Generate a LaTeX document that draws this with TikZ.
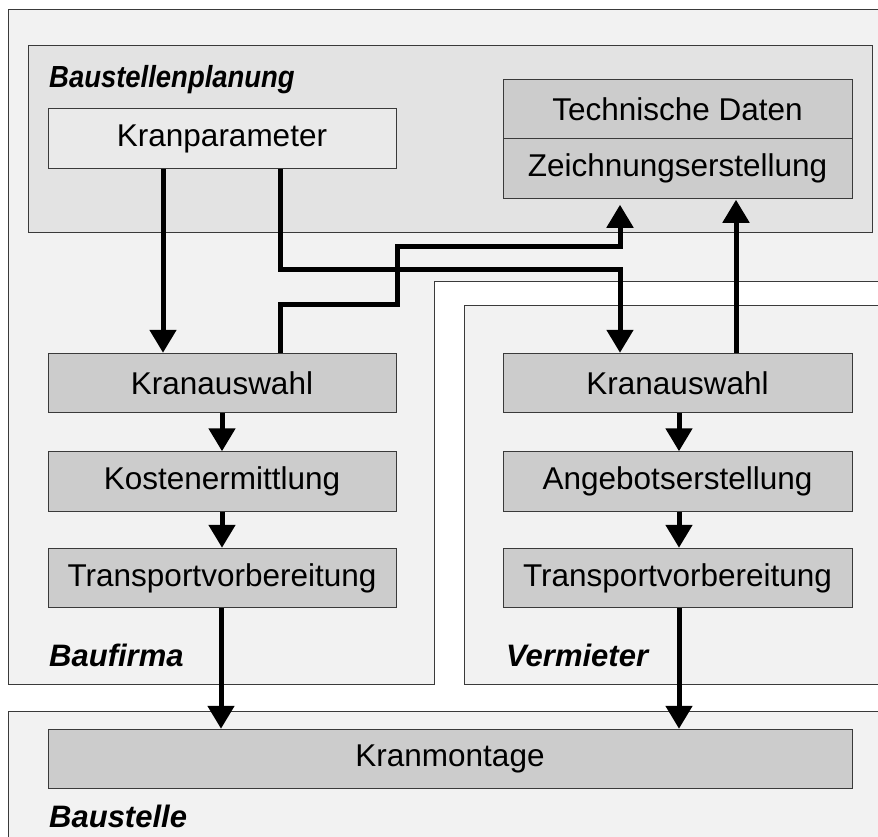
\documentclass[tikz,border=0pt]{standalone}
\usepackage{fontspec}
\setmainfont{Liberation Sans}
\newfontfamily\lblfont{Liberation Sans}[FakeStretch=0.9]
\usetikzlibrary{arrows.meta}
\definecolor{panelbg}{HTML}{F2F2F2}
\definecolor{planbg}{HTML}{E3E3E3}
\definecolor{parbg}{HTML}{EAEAEA}
\definecolor{procbg}{HTML}{CCCCCC}
\definecolor{edge}{HTML}{3A3A3A}
\tikzset{
  panel/.style={fill=panelbg, draw=edge, line width=1pt},
  planpanel/.style={fill=planbg, draw=edge, line width=1pt},
  proc/.style={rectangle, fill=procbg, draw=edge, line width=1pt, minimum width=348pt, minimum height=59.5pt, inner sep=0pt, font=\fontsize{31.5}{36}\selectfont},
  parbox/.style={proc, fill=parbg},
  lbl/.style={anchor=base west, inner sep=0pt, font=\fontsize{31}{34}\selectfont\bfseries\itshape},
  toplbl/.style={lbl, font=\lblfont\fontsize{30.5}{34}\selectfont\bfseries\itshape},
  arr/.style={line width=5pt, -{Triangle[width=26pt,length=23pt]}}
}
\begin{document}
\begin{tikzpicture}[x=1pt,y=-1pt]
\useasboundingbox (0,0) rectangle (878,836);
\fill[white] (0,0) rectangle (878,836);
% panels
\draw[panel] (8,9) -- (895,9) -- (895,281) -- (434,281) -- (434,684) -- (8,684) -- cycle;
\draw[panel] (464,305) rectangle (895,684);
\draw[panel] (8,711) rectangle (895,850);
\draw[planpanel] (28,45) rectangle (872,232);
% labels
\node[toplbl] (lplan) at (49,87) {Baustellenplanung};
\node[lbl] (lfirma) at (49,666) {Baufirma};
\node[lbl] (lverm) at (506,666) {Vermieter};
\node[lbl] (lstelle) at (49,827) {Baustelle};
% boxes
\node[parbox] (kp) at (222,138.5) {Kranparameter};
\node[proc, minimum width=349pt] (td) at (677.5,109.5) {Technische Daten};
\node[proc, minimum width=349pt] (ze) at (677.5,168.5) {Zeichnungserstellung};
\node[proc] (ka1) at (222,383) {Kranauswahl};
\node[proc] (ke) at (222,481.5) {Kostenermittlung};
\node[proc] (tv1) at (222,578) {Transportvorbereitung};
\node[proc, minimum width=349pt] (ka2) at (677.5,383) {Kranauswahl};
\node[proc, minimum width=349pt] (ag) at (677.5,481.5) {Angebotserstellung};
\node[proc, minimum width=349pt] (tv2) at (677.5,578) {Transportvorbereitung};
\node[proc, minimum width=804pt] (km) at (450,759) {Kranmontage};
% connectors
\draw[arr] ([xshift=-59pt]kp.south) -- ([xshift=-59pt]ka1.north);
\draw[arr] ([xshift=58pt]kp.south) -- ++(0,101) -| ([xshift=-57.5pt]ka2.north);
\draw[arr] ([xshift=58pt]ka1.north) -- ++(0,-48) -- ++(117,0) -- ++(0,-58) -| ([xshift=-57.5pt,yshift=-6pt]ze.south);
\draw[arr] ([xshift=58.5pt]ka2.north) -- ([xshift=58.5pt,yshift=-1pt]ze.south);
\draw[arr] (ka1.south) -- (ke.north);
\draw[arr] (ke.south) -- (tv1.north);
\draw[arr] ([xshift=1.5pt]ka2.south) -- ([xshift=1.5pt]ag.north);
\draw[arr] ([xshift=1.5pt]ag.south) -- ([xshift=1.5pt]tv2.north);
\draw[arr] ([xshift=-1pt]tv1.south) -- ([xshift=-1pt]tv1.south |- km.north);
\draw[arr] ([xshift=1.5pt]tv2.south) -- ([xshift=1.5pt]tv2.south |- km.north);
\end{tikzpicture}
\end{document}
